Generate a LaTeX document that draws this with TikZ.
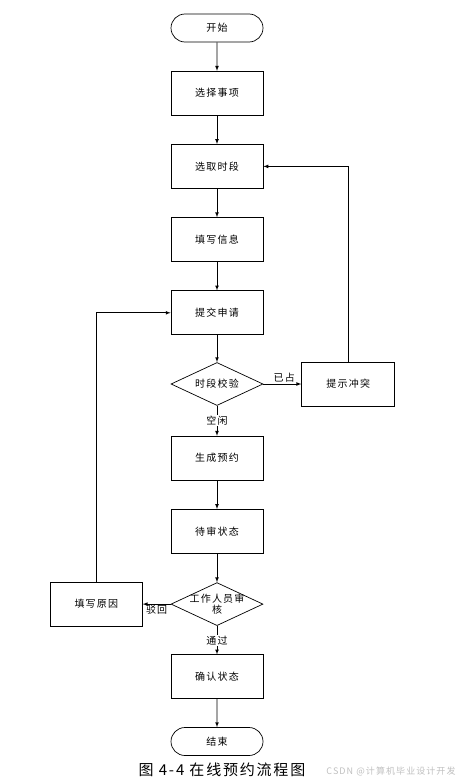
\documentclass[tikz,border=0pt]{standalone}
\usepackage{fontspec}
\setmainfont[LetterSpace=12]{Noto Sans CJK SC}
\usetikzlibrary{arrows,shapes,positioning}

\begin{document}
\begin{tikzpicture}[
        node distance=28.5pt and 38pt,
        >=latex,
        every node/.style={font=\fontsize{10}{11.5}\selectfont, align=center},
        every path/.style={line width=0.7pt},
        proc/.style={draw, minimum width=92pt, minimum height=44pt, inner sep=0pt},
        term/.style={draw, rounded rectangle, minimum width=92pt, minimum height=28pt, inner sep=0pt},
        check/.style={draw, diamond, aspect=2, minimum width=92pt, minimum height=43pt, inner sep=0pt},
        tag/.style={fill=white, inner sep=1pt}
    ]
    \useasboundingbox (0,0) rectangle (456pt,-784pt);

    % Nodes
      \node[term] (start) at (217pt,-28pt) {开始};
      \node[proc] (pick)[below=of start] {选择事项};
      \node[proc] (slot)[below=of pick] {选取时段};
      \node[proc] (info)[below=of slot] {填写信息};
      \node[proc] (submit)[below=of info] {提交申请};
      \node[check] (verify)[below=27pt of submit] {时段校验};
      \node[proc, minimum width=93pt] (clash)[right=of verify] {提示冲突};
      \node[proc] (create)[below=30pt of verify] {生成预约};
      \node[proc] (wait)[below=of create] {待审状态};
      \node[check, label={[align=center]center:工作人员审\\核}] (audit)[below=of wait] {};
      \node[proc] (reason)[left=28pt of audit] {填写原因};
      \node[proc] (confirm)[below=of audit] {确认状态};
      \node[term] (end)[below=28pt of confirm] {结束};

      \node (caption) at (222pt,-770pt) [font=\fontsize{15}{15}\selectfont] {图 4-4 在线预约流程图};
      \node (mark) at (391pt,-771pt) [text=gray!50, font=\fontsize{9}{9}\selectfont] {CSDN @计算机毕业设计开发};

    \draw[->] (start) -- (pick);
    \draw[->] (pick) -- (slot);
    \draw[->] (slot) -- (info);
    \draw[->] (info) -- (submit);
    \draw[->] (submit) -- (verify);

    \draw[->] (verify) -- node[above, inner sep=1pt, pos=0.55] {已占} (clash);
    \draw[->] (clash.north) |- (slot.east);
    \draw[->] (verify) -- node[tag] {空闲} (create);

    \draw[->] (create) -- (wait);
    \draw[->] (wait) -- (audit);
    \draw[->] (audit) -- node[below, inner sep=1pt] {驳回} (reason);
    \draw[->] (reason.north) |- (submit.west);
    \draw[->] (audit) -- node[tag] {通过} (confirm);
    \draw[->] (confirm) -- (end);

    \end{tikzpicture}
\end{document}
